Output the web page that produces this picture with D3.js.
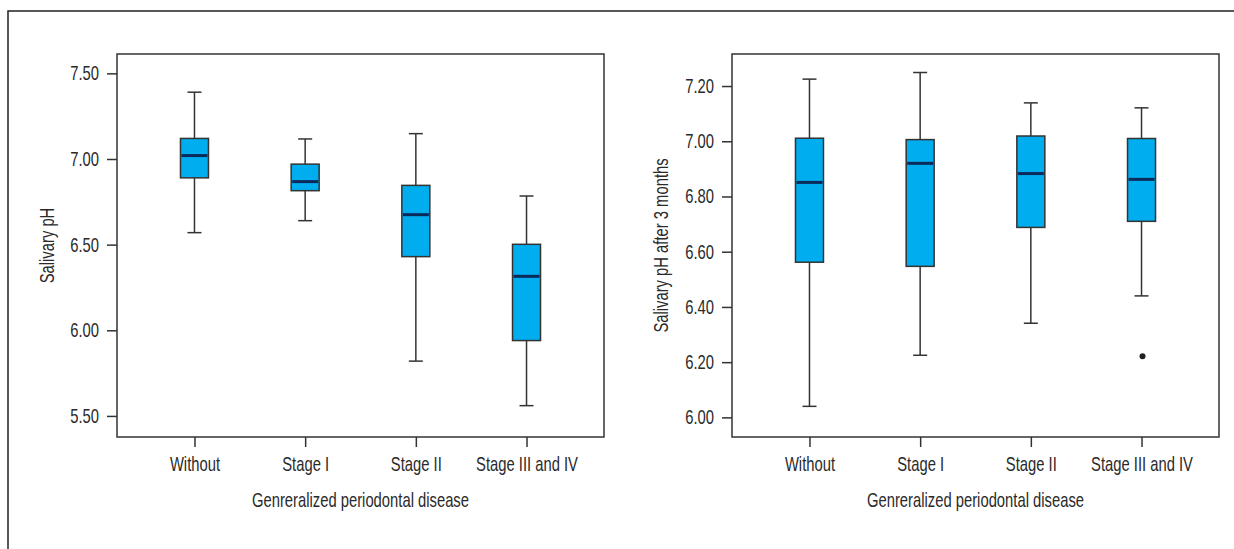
<!DOCTYPE html>
<html>
<head>
<meta charset="utf-8">
<script src="https://cdn.jsdelivr.net/npm/d3@7"></script>
<style>
  body { margin: 0; background: #fff; }
  text { font-family: "Liberation Sans", Arial, sans-serif; fill: #2a2a2a; }
</style>
</head>
<body>
<div id="chart"></div>
<script>
var width = 1234
var height = 549

// groups on the x axis
var categories = ["Without", "Stage I", "Stage II", "Stage III and IV"]

// left panel: salivary pH
var ph_low    = [6.57, 6.64, 5.82, 5.56]
var ph_q1     = [6.89, 6.815, 6.43, 5.94]
var ph_median = [7.02, 6.868, 6.675, 6.315]
var ph_q3     = [7.12, 6.97, 6.846, 6.502]
var ph_high   = [7.39, 7.117, 7.148, 6.784]
var ph_ticks  = [5.5, 6.0, 6.5, 7.0, 7.5]

// right panel: salivary pH after 3 months
var ph3_low    = [6.04, 6.225, 6.341, 6.44]
var ph3_q1     = [6.562, 6.547, 6.688, 6.71]
var ph3_median = [6.851, 6.92, 6.883, 6.862]
var ph3_q3     = [7.011, 7.006, 7.019, 7.01]
var ph3_high   = [7.225, 7.249, 7.139, 7.121]
var ph3_outliers = [{cat: "Stage III and IV", value: 6.221}]
var ph3_ticks  = [6.0, 6.2, 6.4, 6.6, 6.8, 7.0, 7.2]

var fontSize = 20
var squeeze = 0.74   // the original font is a condensed face

var svg = d3.select("#chart").append("svg")
    .attr("width", width)
    .attr("height", height)

// outer figure border (only top and left visible)
svg.append("path")
    .attr("d", "M8," + height + "V11H" + width)
    .attr("fill", "none")
    .attr("stroke", "#222")
    .attr("stroke-width", 1.5)

function condense(sel) {
    sel.each(function() {
        var t = d3.select(this)
        var x = +t.attr("x") || 0
        t.attr("transform", "translate(" + x + ",0) scale(" + squeeze + ",1) translate(" + (-x) + ",0)")
    })
}

function boxPanel(opts) {
    var frame = opts.frame
    var g = svg.append("g")

    var x = d3.scalePoint().domain(categories).range([frame.x0, frame.x1]).padding(0.7)
    var y = d3.scaleLinear().domain(opts.domain).range([frame.y1, frame.y0])

    var rows = categories.map(function(c, i) {
        return {cat: c, low: opts.low[i], q1: opts.q1[i], med: opts.median[i], q3: opts.q3[i], high: opts.high[i]}
    })

    // axes
    var yAxis = g.append("g")
        .attr("transform", "translate(" + frame.x0 + ",0)")
        .call(d3.axisLeft(y).tickValues(opts.ticks).tickFormat(d3.format(".2f")).tickSize(10).tickPadding(8))
    var xAxis = g.append("g")
        .attr("transform", "translate(0," + frame.y1 + ")")
        .call(d3.axisBottom(x).tickSize(10).tickPadding(10))
    ;[yAxis, xAxis].forEach(function(a) {
        a.select(".domain").remove()
        a.selectAll("line").attr("stroke", "#333").attr("stroke-width", 1.5)
        a.selectAll("text").attr("font-size", fontSize).attr("font-family", null).attr("fill", "#2a2a2a").call(condense)
    })

    // plot frame
    g.append("rect")
        .attr("x", frame.x0).attr("y", frame.y0)
        .attr("width", frame.x1 - frame.x0).attr("height", frame.y1 - frame.y0)
        .attr("fill", "none").attr("stroke", "#333").attr("stroke-width", 1.5)

    var bw = 28
    var boxes = g.selectAll(".box").data(rows).enter().append("g")

    boxes.append("line")
        .attr("x1", function(d) { return x(d.cat) }).attr("x2", function(d) { return x(d.cat) })
        .attr("y1", function(d) { return y(d.low) }).attr("y2", function(d) { return y(d.high) })
        .attr("stroke", "#333").attr("stroke-width", 1.5)
    boxes.selectAll(".cap").data(function(d) { return [{cat: d.cat, v: d.low}, {cat: d.cat, v: d.high}] })
        .enter().append("line")
        .attr("x1", function(d) { return x(d.cat) - bw / 4 }).attr("x2", function(d) { return x(d.cat) + bw / 4 })
        .attr("y1", function(d) { return y(d.v) }).attr("y2", function(d) { return y(d.v) })
        .attr("stroke", "#333").attr("stroke-width", 1.5)
    boxes.append("rect")
        .attr("x", function(d) { return x(d.cat) - bw / 2 })
        .attr("y", function(d) { return y(d.q3) })
        .attr("width", bw)
        .attr("height", function(d) { return y(d.q1) - y(d.q3) })
        .attr("fill", "#00adef").attr("stroke", "#333").attr("stroke-width", 1.5)
    boxes.append("line")
        .attr("x1", function(d) { return x(d.cat) - bw / 2 + 1 }).attr("x2", function(d) { return x(d.cat) + bw / 2 - 1 })
        .attr("y1", function(d) { return y(d.med) }).attr("y2", function(d) { return y(d.med) })
        .attr("stroke", "#0b2a5a").attr("stroke-width", 3)

    g.selectAll(".outlier").data(opts.outliers || []).enter().append("circle")
        .attr("cx", function(d) { return x(d.cat) + 1 })
        .attr("cy", function(d) { return y(d.value) })
        .attr("r", 3).attr("fill", "#222")

    // axis titles
    var xt = (frame.x0 + frame.x1) / 2
    g.append("text")
        .attr("x", xt).attr("y", 507)
        .attr("text-anchor", "middle").attr("font-size", fontSize)
        .attr("transform", "translate(" + xt + ",0) scale(" + squeeze + ",1) translate(" + (-xt) + ",0)")
        .text("Genreralized periodontal disease")
    var yc = (frame.y0 + frame.y1) / 2
    g.append("text")
        .attr("text-anchor", "middle").attr("font-size", fontSize)
        .attr("transform", "translate(" + opts.titleX + "," + yc + ") rotate(-90) scale(" + squeeze + ",1)")
        .text(opts.title)
}

boxPanel({
    frame: {x0: 117, x1: 604, y0: 54, y1: 437},
    domain: [5.377, 7.613],
    ticks: ph_ticks,
    low: ph_low, q1: ph_q1, median: ph_median, q3: ph_q3, high: ph_high,
    title: "Salivary pH",
    titleX: 54
})

boxPanel({
    frame: {x0: 732, x1: 1219, y0: 54, y1: 437},
    domain: [5.929, 7.316],
    ticks: ph3_ticks,
    low: ph3_low, q1: ph3_q1, median: ph3_median, q3: ph3_q3, high: ph3_high,
    outliers: ph3_outliers,
    title: "Salivary pH after 3 months",
    titleX: 668
})
</script>
</body>
</html>
